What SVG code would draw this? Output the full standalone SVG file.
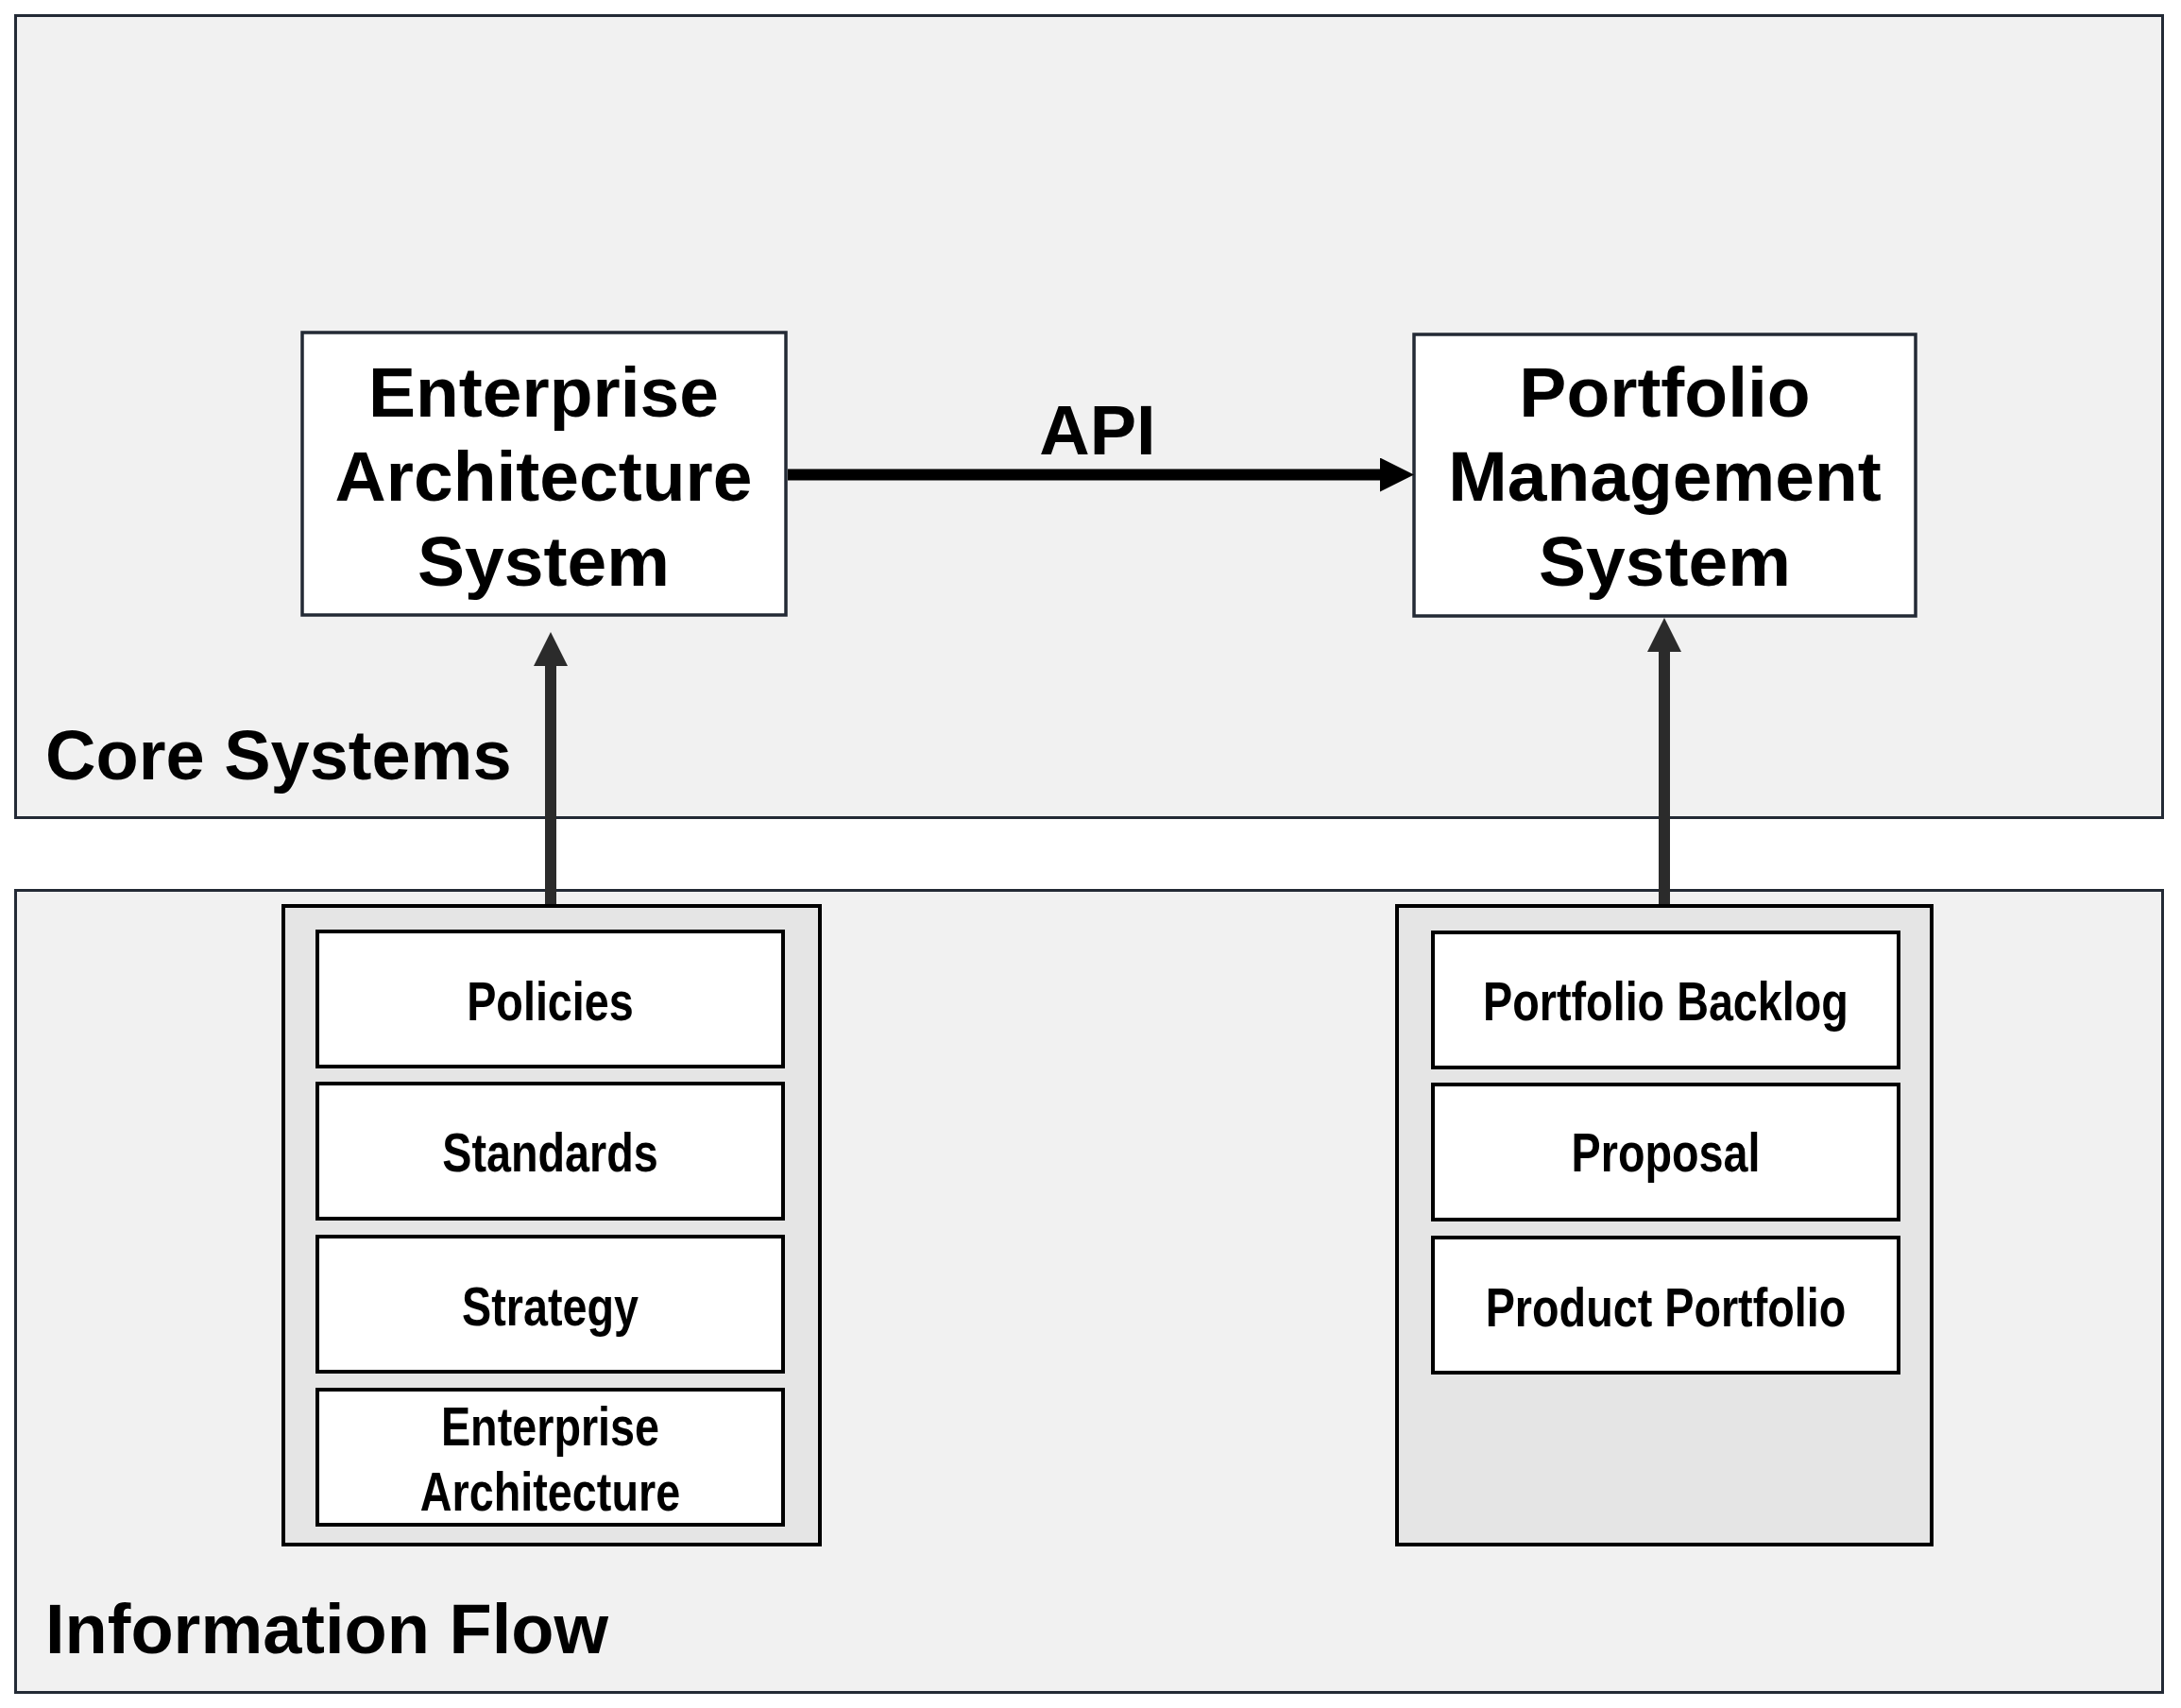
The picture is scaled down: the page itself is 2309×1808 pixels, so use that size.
<svg xmlns="http://www.w3.org/2000/svg" width="2309" height="1808" viewBox="0 0 2309 1808">
<style>
.panel{fill:#f1f1f1;stroke:#232a35;stroke-width:3}
.sys{fill:#ffffff;stroke:#232a35;stroke-width:3.5}
.cont{fill:#e5e5e5;stroke:#000;stroke-width:4}
.item{fill:#ffffff;stroke:#000;stroke-width:4}
.big{font-family:"Liberation Sans",Arial,sans-serif;font-weight:bold;font-size:75px;fill:#000;text-anchor:middle}
.lbl{font-family:"Liberation Sans",Arial,sans-serif;font-weight:bold;font-size:74px;fill:#000}
.it{font-family:"Liberation Sans",Arial,sans-serif;font-weight:bold;font-size:57px;fill:#000;text-anchor:middle}
.api{stroke:#000;stroke-width:12;fill:none}
.up{stroke:#2b2b2b;stroke-width:12;fill:none}
</style>
<defs>
<marker id="ahBlack" markerUnits="userSpaceOnUse" markerWidth="36" markerHeight="36" refX="0" refY="18" orient="auto">
<path d="M0,0 L36,18 L0,36 Z" fill="#000"/>
</marker>
<marker id="ahGray" markerUnits="userSpaceOnUse" markerWidth="36" markerHeight="36" refX="0" refY="18" orient="auto">
<path d="M0,0 L36,18 L0,36 Z" fill="#2b2b2b"/>
</marker>
</defs>
<rect width="2309" height="1808" fill="#ffffff"/>
<g id="core-systems">
<rect class="panel" x="16.5" y="16.5" width="2273" height="849"/>
<text class="lbl" x="48" y="825">Core Systems</text>
</g>
<g id="information-flow">
<rect class="panel" x="16.5" y="942.5" width="2273" height="849"/>
<text class="lbl" x="48" y="1750">Information Flow</text>
</g>
<g id="ea-system">
<rect class="sys" x="320" y="352" width="512" height="299"/>
<text class="big" x="575.5" y="441">Enterprise</text>
<text class="big" x="575.5" y="530">Architecture</text>
<text class="big" x="575.5" y="620">System</text>
</g>
<g id="pm-system">
<rect class="sys" x="1497" y="354" width="531" height="298"/>
<text class="big" x="1762.5" y="441">Portfolio</text>
<text class="big" x="1762.5" y="530">Management</text>
<text class="big" x="1762.5" y="620">System</text>
</g>
<g id="ea-sources">
<rect class="cont" x="300" y="959" width="568" height="676"/>
<g id="policies">
<rect class="item" x="336" y="986" width="493" height="143"/>
<text class="it" transform="translate(582.5,1080) scale(0.82,1)">Policies</text>
</g>
<g id="standards">
<rect class="item" x="336" y="1147" width="493" height="143"/>
<text class="it" transform="translate(582.5,1240) scale(0.82,1)">Standards</text>
</g>
<g id="strategy">
<rect class="item" x="336" y="1309" width="493" height="143"/>
<text class="it" transform="translate(582.5,1403) scale(0.82,1)">Strategy</text>
</g>
<g id="enterprise-architecture">
<rect class="item" x="336" y="1471" width="493" height="143"/>
<text class="it" transform="translate(582.5,1530) scale(0.82,1)">Enterprise</text>
<text class="it" transform="translate(582.5,1599) scale(0.82,1)">Architecture</text>
</g>
</g>
<g id="pm-sources">
<rect class="cont" x="1479" y="959" width="566" height="676"/>
<g id="portfolio-backlog">
<rect class="item" x="1517" y="987" width="493" height="143"/>
<text class="it" transform="translate(1763.5,1080) scale(0.82,1)">Portfolio Backlog</text>
</g>
<g id="proposal">
<rect class="item" x="1517" y="1148" width="493" height="143"/>
<text class="it" transform="translate(1763.5,1240) scale(0.82,1)">Proposal</text>
</g>
<g id="product-portfolio">
<rect class="item" x="1517" y="1310" width="493" height="143"/>
<text class="it" transform="translate(1763.5,1404) scale(0.82,1)">Product Portfolio</text>
</g>
</g>
<g id="connectors">
<line class="api" x1="834" y1="502.5" x2="1461" y2="502.5" marker-end="url(#ahBlack)"/>
<text class="lbl" x="1162" y="481" text-anchor="middle">API</text>
<line class="up" x1="583" y1="957" x2="583" y2="705" marker-end="url(#ahGray)"/>
<line class="up" x1="1762" y1="957" x2="1762" y2="690" marker-end="url(#ahGray)"/>
</g>
</svg>
